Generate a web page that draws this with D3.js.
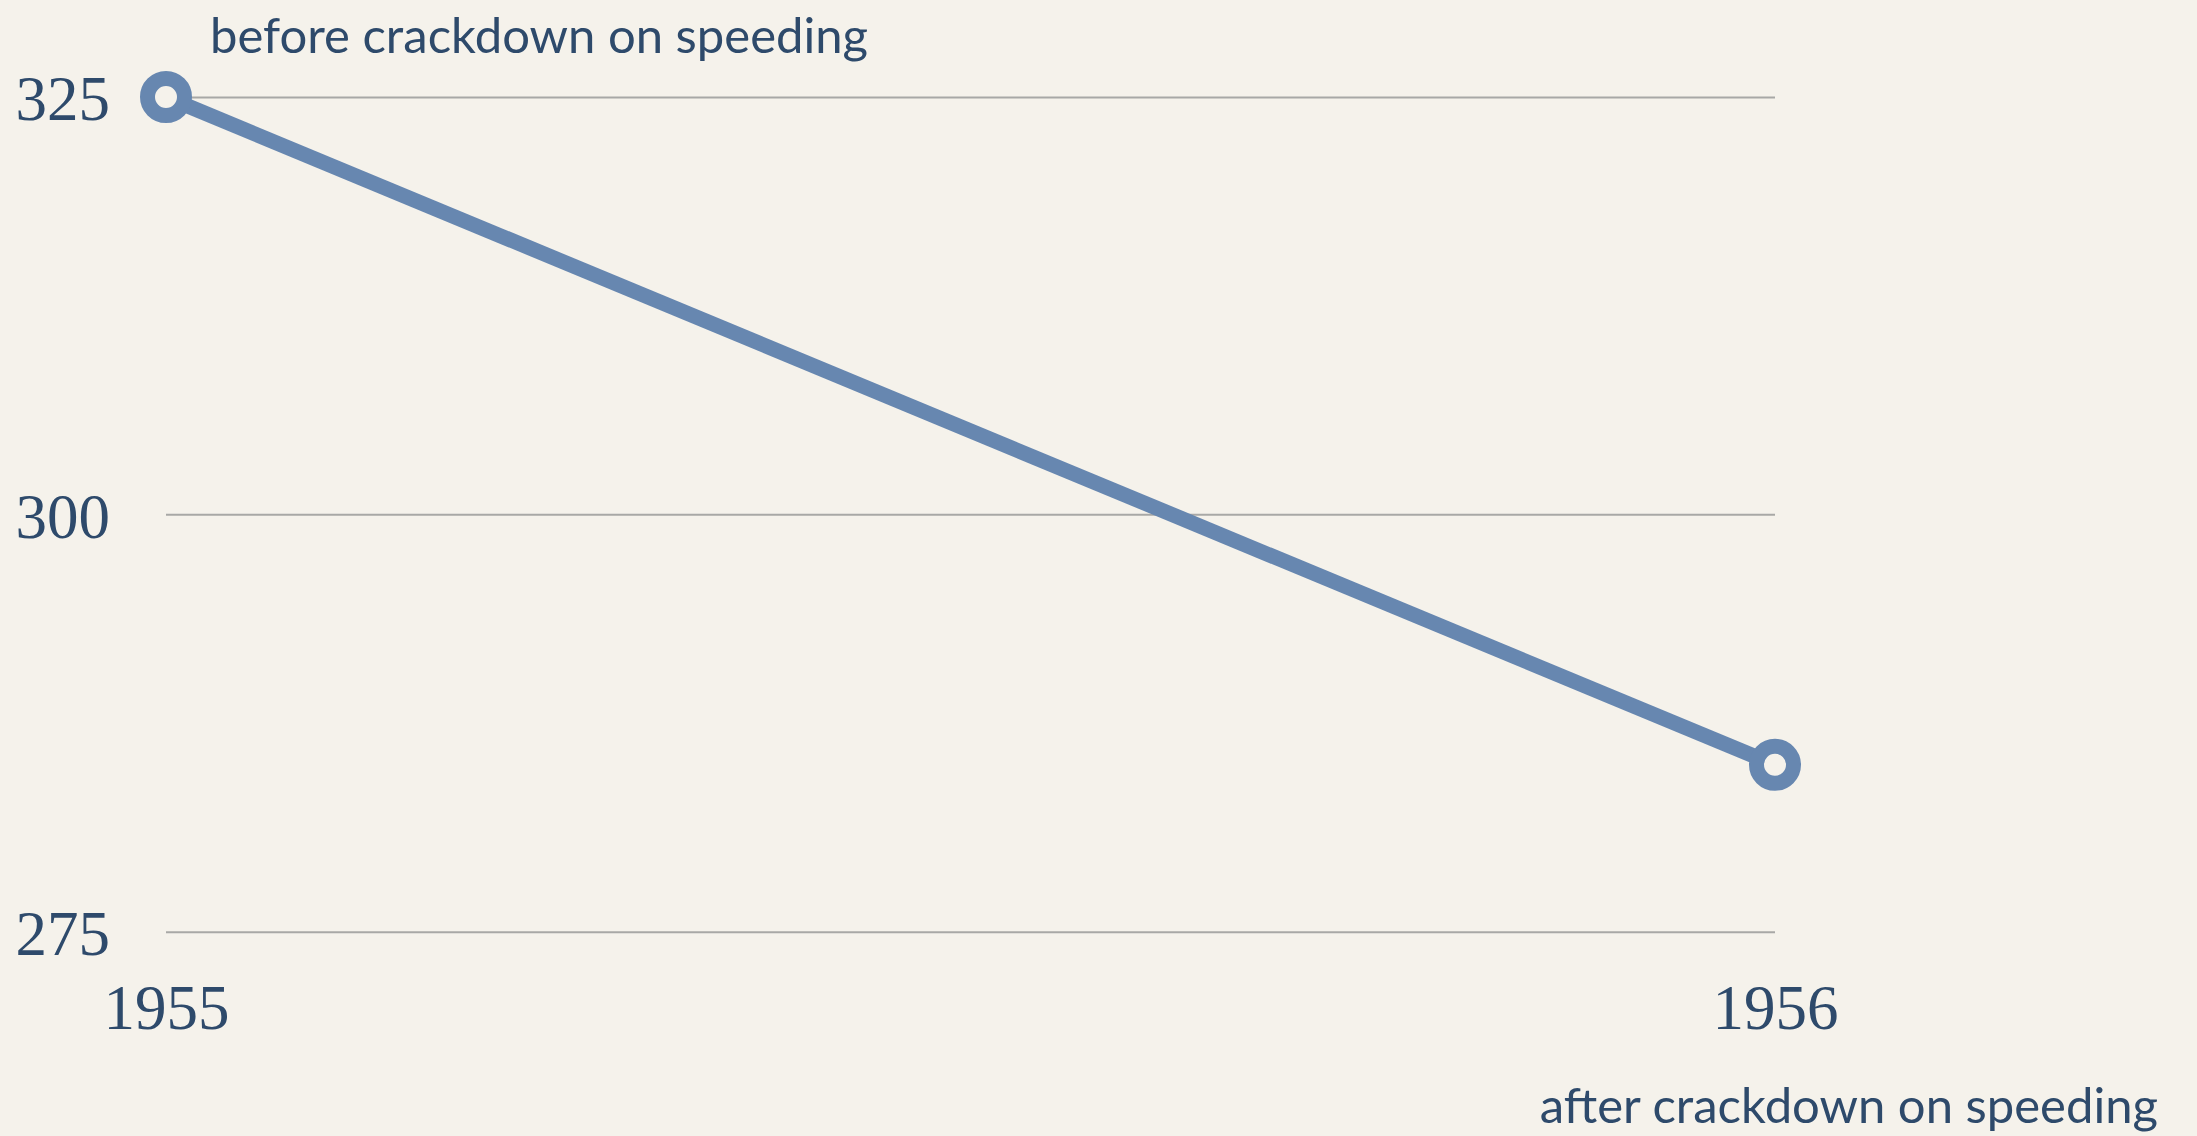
<!DOCTYPE html>
<html>
<head>
<meta charset="utf-8">
<script src="https://cdn.jsdelivr.net/npm/d3@7"></script>
<style>
  html, body { margin: 0; padding: 0; background: #f5f2eb; }
  svg { display: block; }
</style>
</head>
<body>
<svg id="chart" width="2197" height="1136"></svg>
<script>
// ---- data ----
const years = [1955, 1956];
const deaths = [325, 285];
const yTicks = [275, 300, 325];
const annotations = ["before crackdown on speeding", "after crackdown on speeding"];

// ---- layout ----
const W = 2197, H = 1136;
const svg = d3.select("#chart");
svg.append("rect").attr("width", W).attr("height", H).attr("fill", "#f5f2eb");

const x = d3.scaleLinear().domain([1955, 1956]).range([166, 1775]);
const y = d3.scaleLinear().domain([275, 325]).range([931.7, 97]);

const textColor = "#2e4a6b";
const lineColor = "#6787b0";
const serif = "'Liberation Serif', 'DejaVu Serif', serif";
const sans = "Lato, 'Open Sans', sans-serif";

// gridlines
const yAxis = d3.axisLeft(y).tickValues(yTicks).tickSize(-(x.range()[1] - x.range()[0])).tickFormat(d3.format("d")).tickPadding(56);
const gy = svg.append("g").attr("transform", `translate(${x.range()[0]},0)`).call(yAxis);
gy.select(".domain").remove();
gy.selectAll(".tick line").attr("stroke", "#a8a8a6").attr("stroke-width", 2);
gy.selectAll(".tick text")
  .attr("fill", textColor)
  .attr("font-family", serif)
  .attr("font-size", 63)
  .attr("dy", "0.36em");

// x axis labels
const xAxis = d3.axisBottom(x).tickValues(years).tickFormat(d3.format("d")).tickSize(0).tickPadding(78);
const gx = svg.append("g").attr("transform", `translate(0,${y(275)})`).call(xAxis);
gx.select(".domain").remove();
gx.selectAll(".tick text")
  .attr("fill", textColor)
  .attr("font-family", serif)
  .attr("font-size", 63)
  .attr("dy", "0.3em");

// line
const pts = years.map((yr, i) => ({ year: yr, value: deaths[i] }));
svg.append("path")
  .datum(pts)
  .attr("fill", "none")
  .attr("stroke", lineColor)
  .attr("stroke-width", 15)
  .attr("d", d3.line().x(d => x(d.year)).y(d => y(d.value)));

svg.selectAll("circle.pt")
  .data(pts)
  .join("circle")
  .attr("class", "pt")
  .attr("cx", d => x(d.year))
  .attr("cy", d => y(d.value))
  .attr("r", 18.5)
  .attr("fill", "#f5f2eb")
  .attr("stroke", lineColor)
  .attr("stroke-width", 15);

// annotations
svg.append("text")
  .attr("x", 210)
  .attr("y", 53)
  .attr("fill", textColor)
  .attr("font-family", sans)
  .attr("font-weight", 400)
  .attr("font-size", 49)
  .text(annotations[0]);

svg.append("text")
  .attr("x", 2158)
  .attr("y", 1123)
  .attr("text-anchor", "end")
  .attr("fill", textColor)
  .attr("font-family", sans)
  .attr("font-weight", 400)
  .attr("font-size", 49)
  .text(annotations[1]);
</script>
</body>
</html>
